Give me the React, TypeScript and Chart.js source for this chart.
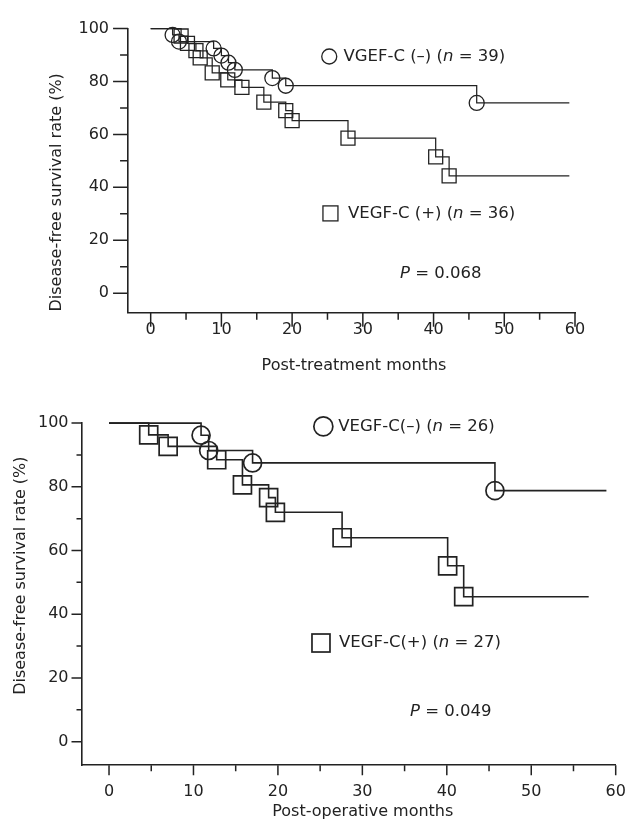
import { useEffect, useRef } from "react";
import { Chart, registerables } from "chart.js";

Chart.register(...registerables);

// ---------- Panel A : post-treatment ----------
const aXTicks = [0, 10, 20, 30, 40, 50, 60];
const aXMinorTicks = [5, 15, 25, 35, 45, 55];
const aYTicks = [0, 20, 40, 60, 80, 100];
const aYMinorTicks = [10, 30, 50, 70, 90];
const aNegMonths = [3.1, 4.0, 8.9, 10.0, 11.0, 11.9, 17.2, 19.1, 46.1];
const aNegSurvival = [97.6, 95.1, 92.5, 89.8, 87.1, 84.4, 81.3, 78.4, 71.9];
const aNegLastFollowUp = 59.2;
const aPosMonths = [4.3, 5.2, 6.4, 7.0, 8.7, 10.9, 12.9, 16.0, 19.1, 20.0, 27.9, 40.3, 42.2];
const aPosSurvival = [97.2, 94.4, 91.7, 88.9, 83.3, 80.6, 77.8, 72.2, 69.0, 65.2, 58.6, 51.5, 44.3];
const aPosLastFollowUp = 59.2;
const aNegLegend = [{ text: "VGEF-C (–) (" }, { text: "n", italic: true }, { text: " = 39)" }];
const aPosLegend = [{ text: "VEGF-C (+) (" }, { text: "n", italic: true }, { text: " = 36)" }];
const aPValue = [{ text: "P", italic: true }, { text: " = 0.068" }];
const aXTitle = "Post-treatment months";
const aYTitle = "Disease-free survival rate (%)";

// ---------- Panel B : post-operative ----------
const bXTicks = [0, 10, 20, 30, 40, 50, 60];
const bXMinorTicks = [5, 15, 25, 35, 45, 55];
const bYTicks = [0, 20, 40, 60, 80, 100];
const bYMinorTicks = [10, 30, 50, 70, 90];
const bNegMonths = [10.9, 11.8, 17.0, 45.7];
const bNegSurvival = [96.2, 91.4, 87.5, 78.8];
const bNegLastFollowUp = 58.9;
const bPosMonths = [4.7, 7.0, 12.75, 15.8, 18.9, 19.7, 27.6, 40.1, 42.0];
const bPosSurvival = [96.3, 92.7, 88.5, 80.6, 76.6, 72.0, 64.0, 55.2, 45.5];
const bPosLastFollowUp = 56.8;
const bNegLegend = [{ text: "VEGF-C(–) (" }, { text: "n", italic: true }, { text: " = 26)" }];
const bPosLegend = [{ text: "VEGF-C(+) (" }, { text: "n", italic: true }, { text: " = 27)" }];
const bPValue = [{ text: "P", italic: true }, { text: " = 0.049" }];
const bXTitle = "Post-operative months";
const bYTitle = "Disease-free survival rate (%)";

// ---------- styling / layout ----------
const FONT = "'DejaVu Sans', 'Liberation Sans', Arial, sans-serif";
const INK = "#222222";
const X_MIN = -3.2;
const X_MAX = 60;
const Y_MIN = -7.4;
const Y_MAX = 100;

type Run = { text: string; italic?: boolean };

const panelA = {
  height: 400,
  yAxisWidth: 128.05,
  xAxisHeight: 50,
  padding: { top: 23.3, right: 52, bottom: 37.3, left: 0 },
  yLabelPad: 19,
  xLabelPad: 8,
  xLabelLineHeight: 1.2,
  yMajorLen: 15,
  yMinorLen: 8,
  xMajorLen: 14,
  xMinorLen: 7,
  lineWidth: 1.25,
  markerWidth: 1.3,
  circleR: 7.5,
  squareSide: 14,
  legendCircleR: 7.5,
  legendSquare: 15,
  tickFont: 16,
  legendFont: 16.5,
  titleFont: 16,
  negLegendAt: { x: 25.25, y: 89.46, textX: 27.26 },
  posLegendAt: { x: 25.42, y: 30.14, textX: 27.9 },
  pAt: { x: 35.25, y: 7.42 },
  xTitleAt: { x: 28.75, y: -27.4 },
  yTitleAt: { px: 57, y: 38.1 },
};

const panelB = {
  height: 423,
  yAxisWidth: 82.0,
  xAxisHeight: 40,
  padding: { top: 21.7, right: 11.3, bottom: 17.8, left: 0 },
  yLabelPad: 13.5,
  xLabelPad: 0,
  xLabelLineHeight: 3.3,
  yMajorLen: 10.5,
  yMinorLen: 5.5,
  xMajorLen: 10,
  xMinorLen: 6,
  lineWidth: 1.6,
  markerWidth: 1.7,
  circleR: 9,
  squareSide: 18,
  legendCircleR: 9.5,
  legendSquare: 18,
  tickFont: 16,
  legendFont: 16.5,
  titleFont: 16,
  negLegendAt: { x: 25.38, y: 98.97, textX: 27.15 },
  posLegendAt: { x: 25.1, y: 30.96, textX: 27.23 },
  pAt: { x: 35.64, y: 9.32 },
  xTitleAt: { x: 30.05, y: -22.2 },
  yTitleAt: { px: 21, y: 52.1 },
};

function stepPoints(months: number[], surv: number[], last: number) {
  const pts = [{ x: 0, y: 100 }];
  months.forEach((m, i) => pts.push({ x: m, y: surv[i] }));
  pts.push({ x: last, y: surv[surv.length - 1] });
  return pts;
}

function radii(n: number, r: number) {
  const arr: number[] = [0];
  for (let i = 0; i < n; i++) arr.push(r);
  arr.push(0);
  return arr;
}

function drawRuns(ctx: CanvasRenderingContext2D, runs: Run[], x: number, y: number, size: number, align: "left" | "center" = "left") {
  const widths = runs.map((r) => {
    ctx.font = `${r.italic ? "italic " : ""}${size}px ${FONT}`;
    return ctx.measureText(r.text).width;
  });
  const total = widths.reduce((a, b) => a + b, 0);
  let cx = align === "center" ? x - total / 2 : x;
  ctx.textAlign = "left";
  ctx.textBaseline = "middle";
  runs.forEach((r, i) => {
    ctx.font = `${r.italic ? "italic " : ""}${size}px ${FONT}`;
    ctx.fillText(r.text, cx, y);
    cx += widths[i];
  });
}

type Series = {
  xTicks: number[];
  xMinor: number[];
  yTicks: number[];
  yMinor: number[];
  negMonths: number[];
  negSurv: number[];
  negLast: number;
  posMonths: number[];
  posSurv: number[];
  posLast: number;
  negLegend: Run[];
  posLegend: Run[];
  pValue: Run[];
  xTitle: string;
  yTitle: string;
};

function makeChart(canvas: HTMLCanvasElement, p: typeof panelA, s: Series) {
  const decor = {
    id: "decor",
    afterDraw(chart: any) {
      const { ctx, chartArea } = chart;
      const xs = chart.scales.x;
      const ys = chart.scales.y;
      ctx.save();
      ctx.strokeStyle = INK;
      ctx.lineWidth = 1.5;
      ctx.beginPath();
      s.yTicks.forEach((v) => {
        const py = ys.getPixelForValue(v);
        ctx.moveTo(chartArea.left - p.yMajorLen, py);
        ctx.lineTo(chartArea.left, py);
      });
      s.yMinor.forEach((v) => {
        const py = ys.getPixelForValue(v);
        ctx.moveTo(chartArea.left - p.yMinorLen, py);
        ctx.lineTo(chartArea.left, py);
      });
      s.xTicks.forEach((v) => {
        const px = xs.getPixelForValue(v);
        ctx.moveTo(px, chartArea.bottom);
        ctx.lineTo(px, chartArea.bottom + p.xMajorLen);
      });
      s.xMinor.forEach((v) => {
        const px = xs.getPixelForValue(v);
        ctx.moveTo(px, chartArea.bottom);
        ctx.lineTo(px, chartArea.bottom + p.xMinorLen);
      });
      ctx.stroke();

      // legend markers
      ctx.lineWidth = p.markerWidth;
      const nx = xs.getPixelForValue(p.negLegendAt.x);
      const ny = ys.getPixelForValue(p.negLegendAt.y);
      ctx.beginPath();
      ctx.arc(nx, ny, p.legendCircleR, 0, Math.PI * 2);
      ctx.stroke();
      const sx = xs.getPixelForValue(p.posLegendAt.x);
      const sy = ys.getPixelForValue(p.posLegendAt.y);
      ctx.strokeRect(sx - p.legendSquare / 2, sy - p.legendSquare / 2, p.legendSquare, p.legendSquare);

      ctx.fillStyle = INK;
      drawRuns(ctx, s.negLegend, xs.getPixelForValue(p.negLegendAt.textX), ny, p.legendFont);
      drawRuns(ctx, s.posLegend, xs.getPixelForValue(p.posLegendAt.textX), sy, p.legendFont);
      drawRuns(ctx, s.pValue, xs.getPixelForValue(p.pAt.x), ys.getPixelForValue(p.pAt.y), p.legendFont);

      // axis titles
      drawRuns(ctx, [{ text: s.xTitle }], xs.getPixelForValue(p.xTitleAt.x), ys.getPixelForValue(p.xTitleAt.y), p.titleFont, "center");
      ctx.save();
      ctx.translate(p.yTitleAt.px, ys.getPixelForValue(p.yTitleAt.y));
      ctx.rotate(-Math.PI / 2);
      drawRuns(ctx, [{ text: s.yTitle }], 0, 0, p.titleFont, "center");
      ctx.restore();
      ctx.restore();
    },
  };

  const lineStyle = {
    borderColor: INK,
    borderWidth: p.lineWidth,
    pointBorderColor: INK,
    pointBackgroundColor: "rgba(0,0,0,0)",
    pointBorderWidth: p.markerWidth,
    stepped: "before" as const,
    fill: false,
    clip: false as const,
    tension: 0,
  };

  return new Chart(canvas, {
    type: "line",
    data: {
      datasets: [
        {
          ...lineStyle,
          label: "VEGF-C (+)",
          data: stepPoints(s.posMonths, s.posSurv, s.posLast),
          pointStyle: "rect",
          pointRadius: radii(s.posMonths.length, p.squareSide / (2 * Math.SQRT1_2)),
        },
        {
          ...lineStyle,
          label: "VEGF-C (–)",
          data: stepPoints(s.negMonths, s.negSurv, s.negLast),
          pointStyle: "circle",
          pointRadius: radii(s.negMonths.length, p.circleR),
        },
      ],
    },
    options: {
      responsive: false,
      animation: false,
      events: [],
      layout: { padding: p.padding },
      plugins: { legend: { display: false }, tooltip: { enabled: false } },
      scales: {
        x: {
          type: "linear",
          min: X_MIN,
          max: X_MAX,
          grid: { display: false, drawTicks: false },
          border: { display: true, color: INK, width: 1.6 },
          ticks: {
            color: INK,
            font: { family: FONT, size: p.tickFont, lineHeight: p.xLabelLineHeight },
            padding: p.xLabelPad,
            maxRotation: 0,
          },
          afterBuildTicks: (sc: any) => {
            sc.ticks = s.xTicks.map((v) => ({ value: v }));
          },
          afterFit: (sc: any) => {
            sc.height = p.xAxisHeight;
          },
        },
        y: {
          type: "linear",
          min: Y_MIN,
          max: Y_MAX,
          grid: { display: false, drawTicks: false },
          border: { display: true, color: INK, width: 1.6 },
          ticks: { color: INK, font: { family: FONT, size: p.tickFont }, padding: p.yLabelPad },
          afterBuildTicks: (sc: any) => {
            sc.ticks = s.yTicks.map((v) => ({ value: v }));
          },
          afterFit: (sc: any) => {
            sc.width = p.yAxisWidth;
          },
        },
      },
    },
    plugins: [decor],
  } as any);
}

export default function App() {
  const refA = useRef<HTMLCanvasElement>(null);
  const refB = useRef<HTMLCanvasElement>(null);

  useEffect(() => {
    const ca = makeChart(refA.current!, panelA, {
      xTicks: aXTicks, xMinor: aXMinorTicks, yTicks: aYTicks, yMinor: aYMinorTicks,
      negMonths: aNegMonths, negSurv: aNegSurvival, negLast: aNegLastFollowUp,
      posMonths: aPosMonths, posSurv: aPosSurvival, posLast: aPosLastFollowUp,
      negLegend: aNegLegend, posLegend: aPosLegend, pValue: aPValue,
      xTitle: aXTitle, yTitle: aYTitle,
    });
    const cb = makeChart(refB.current!, panelB as typeof panelA, {
      xTicks: bXTicks, xMinor: bXMinorTicks, yTicks: bYTicks, yMinor: bYMinorTicks,
      negMonths: bNegMonths, negSurv: bNegSurvival, negLast: bNegLastFollowUp,
      posMonths: bPosMonths, posSurv: bPosSurvival, posLast: bPosLastFollowUp,
      negLegend: bNegLegend, posLegend: bPosLegend, pValue: bPValue,
      xTitle: bXTitle, yTitle: bYTitle,
    });
    return () => {
      ca.destroy();
      cb.destroy();
    };
  }, []);

  return (
    <div style={{ position: "absolute", left: 0, top: 0, width: 627, height: 823, background: "#fff" }}>
      <canvas ref={refA} width={627} height={panelA.height} style={{ position: "absolute", left: 0, top: 0, display: "block" }} />
      <canvas ref={refB} width={627} height={panelB.height} style={{ position: "absolute", left: 0, top: panelA.height, display: "block" }} />
    </div>
  );
}
